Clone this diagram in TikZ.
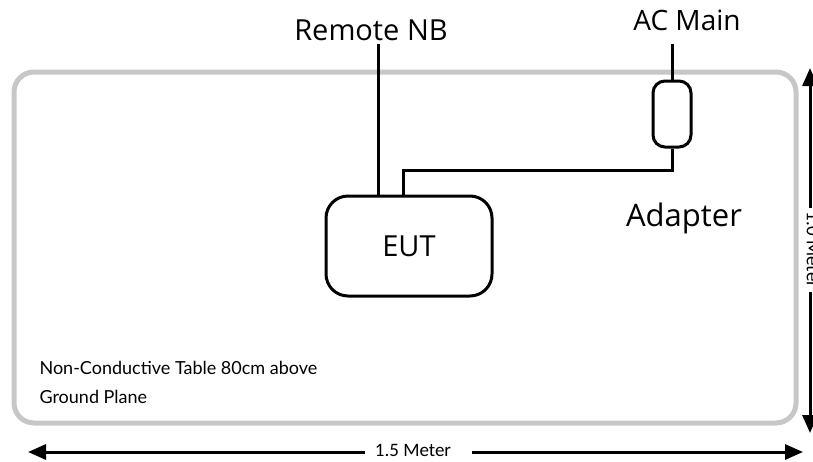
\documentclass[tikz,border=0pt]{standalone}
\usepackage{fontspec}
\setmainfont{Carlito}
\newfontfamily\osans{Open Sans}
\newfontfamily\lato{Lato}
\usetikzlibrary{arrows.meta}
\begin{document}
\begin{tikzpicture}[x=1pt,y=-1pt,
  wire/.style={line width=3pt,black},
  dim/.style={line width=3pt,black,-{Triangle[length=18pt,width=15pt]}},
  box/.style={draw=black,line width=3pt,rounded corners=22pt}]
\useasboundingbox (0,0) rectangle (813,461);
\clip (0,0) rectangle (813,461);
% table
\draw[line width=5pt,color=black!22,rounded corners=20pt] (14,72) rectangle (796,423);
% EUT
\node[box,minimum width=166pt,minimum height=100pt,font=\osans\fontsize{29}{34}\selectfont] (eut) at (409,246) {EUT};
% adapter
\node[draw=black,line width=3pt,rounded corners=12pt,minimum width=38pt,minimum height=66pt] (ad) at (672,114) {};
% labels
\node[font=\osans\fontsize{29}{34}\selectfont] (rnb) at (371,30) {Remote NB};
\node[font=\osans\fontsize{28}{33}\selectfont] (ac) at (687,20) {AC Main};
\node[font=\osans\fontsize{31}{36}\selectfont] (adl) at (684,218) {Adapter};
\coordinate (rtop) at (378,44);
\coordinate (actop) at (672,44);
\draw[wire] (rtop) -- (378,196);
\draw[wire] (actop) -- (ad.north);
\draw[wire] (403,196) -- (403,170) -- (672,170) -- (ad.south);
% table label
\node[font=\lato\fontsize{18}{22}\selectfont,anchor=west] (t1) at (36,368) {Non-Conductive Table 80cm above};
\node[font=\lato\fontsize{18}{22}\selectfont,anchor=west] (t2) at (36,397) {Ground Plane};
% horizontal dimension
\node[font=\fontsize{19}{22}\selectfont] (w) at (413,450) {1.5 Meter};
\coordinate (wl) at (28,452);
\coordinate (wr) at (803,452);
\draw[dim] (365,452) -- (wl);
\draw[dim] (472,452) -- (wr);
% vertical dimension
\node[font=\fontsize{19}{22}\selectfont,rotate=-90] (h) at (813,250) {1.0 Meter};
\coordinate (ht) at (810,68);
\coordinate (hb) at (810,433);
\draw[dim] (810,208) -- (ht);
\draw[dim] (810,292) -- (hb);
\end{tikzpicture}
\end{document}
